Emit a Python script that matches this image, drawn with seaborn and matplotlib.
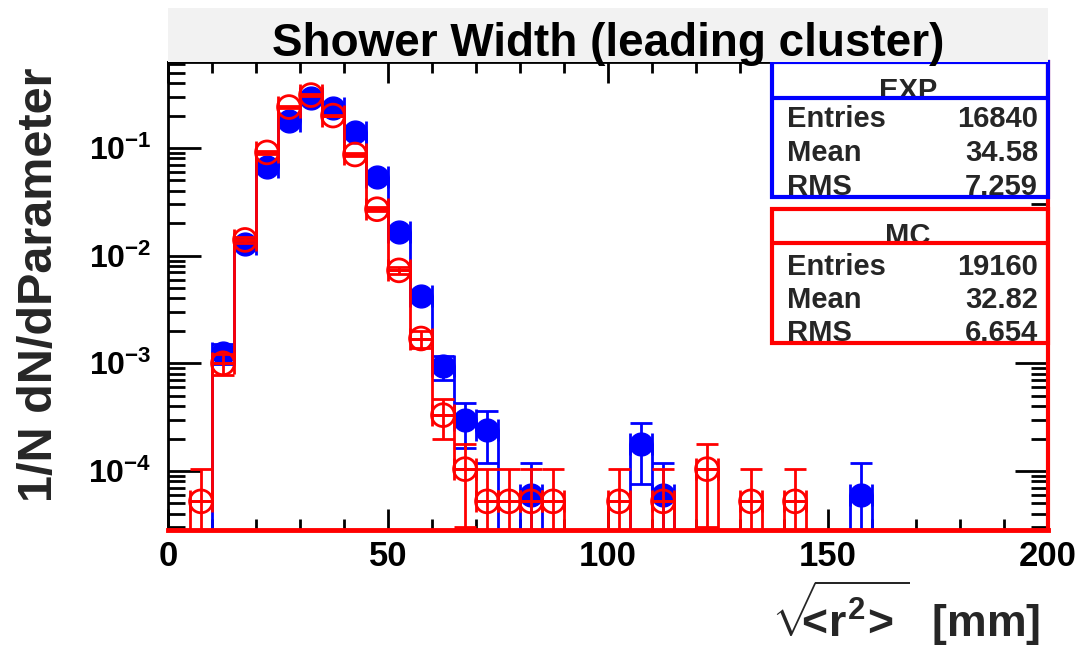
import numpy as np
import pandas as pd
import matplotlib
matplotlib.use("Agg")
import matplotlib.pyplot as plt
from matplotlib.patches import Rectangle
from matplotlib.ticker import MultipleLocator, LogLocator, NullFormatter
import seaborn as sns

# ---------------- data ----------------
bin_edges = list(range(0, 205, 5))

exp_centers = [12.5, 17.5, 22.5, 27.5, 32.5, 37.5, 42.5, 47.5, 52.5, 57.5,
               62.5, 67.5, 72.5, 82.5, 107.5, 112.5, 157.5]
exp_values = [1.25e-3, 0.0129, 0.066, 0.18, 0.29, 0.236, 0.141, 0.054, 0.0166, 0.0042,
              9.4e-4, 2.97e-4, 2.38e-4, 5.94e-5, 1.78e-4, 5.94e-5, 5.94e-5]

mc_centers = [7.5, 12.5, 17.5, 22.5, 27.5, 32.5, 37.5, 42.5, 47.5, 52.5, 57.5,
              62.5, 67.5, 72.5, 77.5, 82.5, 87.5, 102.5, 112.5, 122.5, 132.5, 142.5]
mc_values = [5.22e-5, 1.0e-3, 0.0140, 0.091, 0.24, 0.31, 0.20, 0.087, 0.027, 0.0073, 0.0017,
             3.3e-4, 1.04e-4, 5.22e-5, 5.22e-5, 5.22e-5, 5.22e-5, 5.22e-5, 5.22e-5, 1.04e-4,
             5.22e-5, 5.22e-5]

exp_stats = {"name": "EXP", "Entries": "16840", "Mean": "34.58", "RMS": "7.259"}
mc_stats = {"name": "MC", "Entries": "19160", "Mean": "32.82", "RMS": "6.654"}
exp_n = 16840
mc_n = 19160

title = "Shower Width (leading cluster)"
ylabel = "1/N dN/dParameter"
xlabel = r"$\sqrt{\!\!\!\!<\!r^{2}\!>}$  [mm]"

# ---------------- style ----------------
sns.set_theme(style="ticks")
plt.rcParams["font.family"] = ["Liberation Sans", "DejaVu Sans"]
plt.rcParams["mathtext.fontset"] = "custom"
plt.rcParams["mathtext.rm"] = "Liberation Sans:bold"
plt.rcParams["mathtext.it"] = "Liberation Sans:bold"
plt.rcParams["mathtext.bf"] = "Liberation Sans:bold"

W, H = 1076, 651
fig = plt.figure(figsize=(W / 100, H / 100), dpi=100)
fig.patch.set_facecolor("white")

L, R, T, B = 168, 1048, 62, 530
ax = fig.add_axes([L / W, 1 - B / H, (R - L) / W, (B - T) / H])
ax.set_facecolor("white")

# title box
fig.patches.append(Rectangle((L / W, 1 - T / H), (R - L) / W, (T - 8) / H,
                             transform=fig.transFigure, facecolor="#f2f2f2",
                             edgecolor="none", zorder=0))
fig.text((272 + 945) / 2 / W, 1 - 44 / H, title, ha="center", va="center",
         fontsize=33, fontweight="bold", color="black")

exp_df = pd.DataFrame({"x": exp_centers, "w": exp_values})
mc_df = pd.DataFrame({"x": mc_centers, "w": mc_values})

# histograms as step outlines (seaborn)
sns.histplot(data=exp_df, x="x", weights="w", bins=bin_edges, element="step",
             fill=False, color="blue", linewidth=2, ax=ax, legend=False, zorder=1.5)
sns.histplot(data=mc_df, x="x", weights="w", bins=bin_edges, element="step",
             fill=False, color="red", linewidth=2, ax=ax, legend=False, zorder=1.8)

ax.set_yscale("log")

# error bars (Poisson)
ev = np.array(exp_values)
mv = np.array(mc_values)
e_err = np.sqrt(ev / exp_n)
m_err = np.sqrt(mv / mc_n)
e_lo = np.minimum(e_err, ev)
m_lo = np.minimum(m_err, mv)

ax.errorbar(exp_centers, ev, yerr=[e_lo, e_err], xerr=2.5, fmt="none",
            ecolor="blue", elinewidth=2, capsize=8, capthick=2, zorder=1.6)
sns.scatterplot(data=exp_df, x="x", y="w", ax=ax, s=270, color="blue",
                edgecolor="blue", linewidth=1, zorder=1.7, legend=False)

ax.errorbar(mc_centers, mv, yerr=[m_lo, m_err], xerr=2.5, fmt="none",
            ecolor="red", elinewidth=2, capsize=8, capthick=2, zorder=1.9)
sns.scatterplot(data=mc_df, x="x", y="w", ax=ax, s=270, facecolor="none",
                edgecolor="red", linewidth=2, zorder=2.0, legend=False)

ax.set_xlim(0, 200)
ax.set_ylim(2.83e-5, 0.629)
ax.set_xlabel("")
ax.set_ylabel("")

# ticks
ax.xaxis.set_major_locator(MultipleLocator(50))
ax.xaxis.set_minor_locator(MultipleLocator(10))
ax.yaxis.set_major_locator(LogLocator(base=10, numticks=10))
ax.yaxis.set_minor_locator(LogLocator(base=10, subs=np.arange(2, 10), numticks=20))
ax.yaxis.set_minor_formatter(NullFormatter())
ax.tick_params(which="both", direction="in", top=True, right=True, colors="black",
               width=2)
ax.tick_params(axis="x", which="major", length=15, labelsize=25, pad=7)
ax.tick_params(axis="x", which="minor", length=8)
ax.tick_params(axis="y", which="major", length=24, labelsize=23, pad=12)
ax.tick_params(axis="y", which="minor", length=12)
for lab in ax.get_xticklabels() + ax.get_yticklabels():
    lab.set_fontweight("bold")

for s in ["left", "top"]:
    ax.spines[s].set_color("black")
    ax.spines[s].set_linewidth(2)
ax.spines["bottom"].set_color("red")
ax.spines["bottom"].set_linewidth(3.5)
ax.spines["right"].set_color("red")
ax.spines["right"].set_linewidth(3)

# stats boxes
def px2ax(x, y):
    return (x - L) / (R - L), (B - y) / (B - T)

def stats_box(stats, color, top, sep, bottom, rows_y):
    x0, y0 = px2ax(772, bottom)
    x1, y1 = px2ax(R, top)
    ax.add_patch(Rectangle((x0, y0), x1 - x0, y1 - y0, transform=ax.transAxes,
                           facecolor="white", edgecolor="none", zorder=2.3,
                           clip_on=False))
    ax.add_patch(Rectangle((x0, y0), x1 - x0, y1 - y0, transform=ax.transAxes,
                           facecolor="none", edgecolor=color, linewidth=3, zorder=2.7,
                           clip_on=False))
    _, ys = px2ax(0, sep)
    ax.plot([x0, x1], [ys, ys], transform=ax.transAxes, color=color, lw=3,
            zorder=2.7, clip_on=False)
    hx, hy = px2ax(908, sep + 1)
    ax.text(hx, hy, stats["name"], transform=ax.transAxes, ha="center", va="baseline",
            fontsize=21, fontweight="bold", zorder=2.4, clip_on=False)
    for key, yy in zip(["Entries", "Mean", "RMS"], rows_y):
        lx, ly = px2ax(787, yy)
        rx, _ = px2ax(1038, yy)
        ax.text(lx, ly, key, transform=ax.transAxes, ha="left", va="center",
                fontsize=21, fontweight="bold", zorder=2.4, clip_on=False)
        ax.text(rx, ly, stats[key], transform=ax.transAxes, ha="right", va="center",
                fontsize=21, fontweight="bold", zorder=2.4, clip_on=False)

stats_box(exp_stats, "blue", 62, 98, 197, [119, 153, 187])
stats_box(mc_stats, "red", 209, 243, 343, [267, 300, 333])

# axis labels
fig.text(40 / W, 1 - 285 / H, ylabel, rotation=90, ha="center", va="center",
         fontsize=35, fontweight="bold")
fig.text(1040 / W, 1 - 637 / H, xlabel, ha="right", va="baseline",
         fontsize=32, fontweight="bold")

fig.savefig("out.png", dpi=100, facecolor="white")
